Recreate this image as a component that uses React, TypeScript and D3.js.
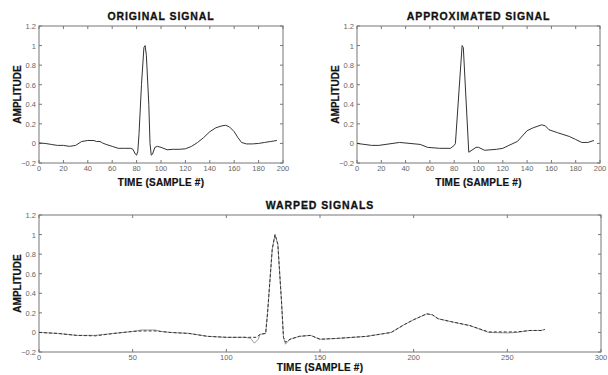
import { useMemo } from "react";
import * as d3 from "d3";

const W = 608;
const H = 375;

// original ECG beat (sample #, amplitude)
const origT = [0, 5, 10, 15, 20, 25, 30, 35, 40, 45, 47, 50, 52, 55, 60, 65, 70, 75, 77, 79, 80, 81, 82, 84, 86, 87, 88, 90, 91, 92, 93, 95, 97, 100, 105, 110, 115, 120, 125, 130, 135, 140, 145, 150, 153, 156, 160, 163, 166, 170, 175, 180, 185, 190, 195];
const origV = [0.005, 0, -0.01, -0.02, -0.02, -0.03, -0.02, 0.02, 0.03, 0.03, 0.02, 0.02, 0.005, -0.01, -0.03, -0.05, -0.05, -0.05, -0.06, -0.11, -0.12, -0.08, 0.1, 0.6, 0.98, 1.0, 0.9, 0.4, 0.0, -0.12, -0.11, -0.04, -0.03, -0.04, -0.065, -0.06, -0.06, -0.055, -0.03, 0.01, 0.06, 0.12, 0.16, 0.18, 0.185, 0.17, 0.12, 0.06, 0.01, -0.005, -0.005, 0, 0.01, 0.02, 0.03];

// piecewise linear approximation
const approxT = [0, 12, 18, 35, 52, 58, 68, 77, 80, 81, 86.5, 87.5, 92, 98, 100, 105, 115, 120, 125, 132, 140, 145, 152, 155, 158, 165, 175, 180, 185, 190, 195];
const approxV = [0, -0.02, -0.02, 0.01, -0.01, -0.04, -0.05, -0.05, -0.02, 0.0, 1.0, 0.98, -0.09, -0.04, -0.04, -0.07, -0.06, -0.05, -0.02, 0.02, 0.13, 0.16, 0.19, 0.18, 0.14, 0.11, 0.07, 0.04, 0.01, 0.01, 0.03];

// warped original
const warpAT = [0, 10, 20, 30, 40, 50, 55, 62, 65, 70, 80, 90, 100, 110, 113, 115, 117, 118, 121, 122, 124.5, 126, 127.5, 129.5, 130.5, 131.6, 134, 139, 145, 150, 160, 175, 188, 195, 200, 207, 210, 213, 220, 230, 240, 250, 255, 262, 268, 270];
const warpAV = [0, -0.01, -0.03, -0.03, -0.01, 0.01, 0.025, 0.025, 0.01, 0, -0.01, -0.04, -0.05, -0.05, -0.06, -0.11, -0.07, -0.02, -0.01, 0.2, 0.85, 1.0, 0.9, 0.3, -0.05, -0.12, -0.07, -0.04, -0.03, -0.07, -0.06, -0.04, 0, 0.08, 0.13, 0.19, 0.18, 0.14, 0.11, 0.07, 0, -0.005, 0, 0.02, 0.02, 0.03];

// warped approximation
const warpBT = [0, 10, 20, 30, 40, 50, 55, 62, 65, 70, 80, 90, 100, 110, 116, 118, 121, 122, 124.5, 126, 127.5, 129.5, 130.5, 131.6, 134, 139, 145, 150, 160, 175, 188, 195, 200, 207, 210, 213, 220, 230, 240, 250, 255, 262, 268, 270];
const warpBV = [0, -0.01, -0.03, -0.035, -0.01, 0.01, 0.015, 0.015, 0.01, 0, -0.01, -0.04, -0.05, -0.05, -0.05, -0.02, -0.01, 0.2, 0.85, 1.0, 0.9, 0.3, -0.05, -0.1, -0.07, -0.04, -0.03, -0.07, -0.06, -0.04, 0, 0.08, 0.13, 0.19, 0.18, 0.14, 0.11, 0.07, 0.005, 0.005, 0.005, 0.02, 0.02, 0.03];

const yTicks = [-0.2, 0, 0.2, 0.4, 0.6, 0.8, 1, 1.2];
const xTicksTop = [0, 20, 40, 60, 80, 100, 120, 140, 160, 180, 200];
const xTicksBottom = [0, 50, 100, 150, 200, 250, 300];

const FONT = "'Liberation Sans', Arial, sans-serif";

type Series = { t: number[]; v: number[]; color: string; dash?: string };

function Panel({ x0, x1, y0, y1, xMax, xTicks, title, series, xLabelGap = 23 }: {
  x0: number; x1: number; y0: number; y1: number; xMax: number; xTicks: number[]; title: string; series: Series[]; xLabelGap?: number;
}) {
  const x = useMemo(() => d3.scaleLinear().domain([0, xMax]).range([x0, x1]), [x0, x1, xMax]);
  const y = useMemo(() => d3.scaleLinear().domain([-0.2, 1.2]).range([y1, y0]), [y0, y1]);
  const tick = 3;
  return (
    <g>
      <rect x={x0} y={y0} width={x1 - x0} height={y1 - y0} fill="#fff" stroke="#777" strokeWidth={1} />
      {xTicks.map((t) => (
        <g key={"x" + t}>
          <line x1={x(t)} x2={x(t)} y1={y1} y2={y1 - tick} stroke="#777" />
          <line x1={x(t)} x2={x(t)} y1={y0} y2={y0 + tick} stroke="#777" />
          <text x={x(t)} y={y1 + 8} textAnchor="middle" fontSize={7.5} fill="#666" fontFamily={FONT}>{t}</text>
        </g>
      ))}
      {yTicks.map((t) => (
        <g key={"y" + t}>
          <line x1={x0} x2={x0 + tick} y1={y(t)} y2={y(t)} stroke="#777" />
          <line x1={x1} x2={x1 - tick} y1={y(t)} y2={y(t)} stroke="#777" />
          <text x={x0 - 3} y={y(t) + 3} textAnchor="end" fontSize={7.5} fill="#666" fontFamily={FONT}>{d3.format("~g")(t)}</text>
        </g>
      ))}
      {series.map((s, i) => {
        const d = d3.line<number>().x((_, k) => x(s.t[k])).y((v) => y(v))(s.v) ?? "";
        return <path key={i} d={d} fill="none" stroke={s.color} strokeWidth={1} strokeDasharray={s.dash} />;
      })}
      <text x={(x0 + x1) / 2} y={y0 - 6} textAnchor="middle" fontSize={10.5} letterSpacing={0.9} fontWeight="bold" fontFamily={FONT} fill="#111" stroke="#111" strokeWidth={0.3}>{title}</text>
      <text x={(x0 + x1) / 2} y={y1 + xLabelGap} textAnchor="middle" fontSize={10} letterSpacing={0.2} fontWeight="bold" fontFamily={FONT} fill="#111" stroke="#111" strokeWidth={0.2}>TIME (SAMPLE #)</text>
      <text transform={`translate(${x0 - 18},${(y0 + y1) / 2}) rotate(-90)`} textAnchor="middle" fontSize={10} fontWeight="bold" fontFamily={FONT} fill="#111" stroke="#111" strokeWidth={0.2}>AMPLITUDE</text>
    </g>
  );
}

export default function App() {
  return (
    <svg width={W} height={H} style={{ position: "absolute", left: 0, top: 0, background: "#fff" }}>
      <Panel x0={39} x1={283} y0={26} y1={163} xMax={200} xTicks={xTicksTop} title="ORIGINAL SIGNAL"
        series={[{ t: origT, v: origV, color: "#333" }]} />
      <Panel x0={357} x1={600} y0={26} y1={163} xMax={200} xTicks={xTicksTop} title="APPROXIMATED SIGNAL"
        series={[{ t: approxT, v: approxV, color: "#333" }]} />
      <Panel x0={39} x1={601} y0={215} y1={352} xMax={300} xTicks={xTicksBottom} title="WARPED SIGNALS" xLabelGap={19}
        series={[
          { t: warpAT, v: warpAV, color: "#999" },
          { t: warpBT, v: warpBV, color: "#333", dash: "3,2" },
        ]} />
    </svg>
  );
}
